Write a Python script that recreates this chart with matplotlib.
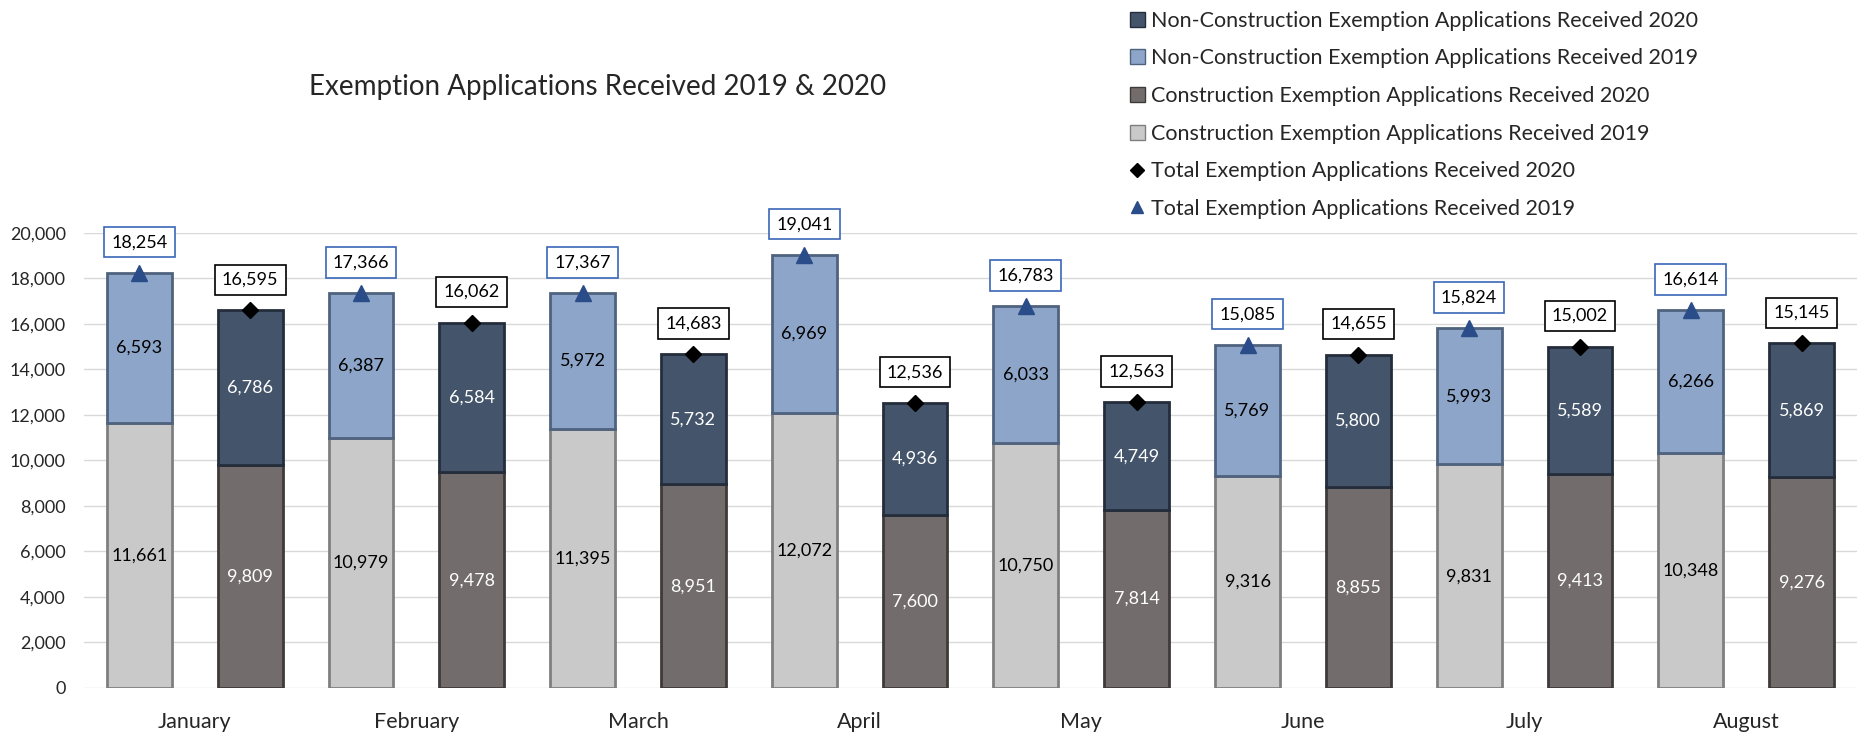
import numpy as np
import matplotlib.pyplot as plt
from matplotlib.lines import Line2D
from matplotlib.patches import Patch

plt.rcParams['font.family'] = ['Lato', 'DejaVu Sans']

months = ['January', 'February', 'March', 'April', 'May', 'June', 'July', 'August']
con19 = [11661, 10979, 11395, 12072, 10750, 9316, 9831, 10348]
non19 = [6593, 6387, 5972, 6969, 6033, 5769, 5993, 6266]
tot19 = [18254, 17366, 17367, 19041, 16783, 15085, 15824, 16614]
con20 = [9809, 9478, 8951, 7600, 7814, 8855, 9413, 9276]
non20 = [6786, 6584, 5732, 4936, 4749, 5800, 5589, 5869]
tot20 = [16595, 16062, 14683, 12536, 12563, 14655, 15002, 15145]

c_con19, c_non19 = '#c9c9c9', '#8ca5c8'
c_con20, c_non20 = '#726c6c', '#44546a'
e_con19, e_non19 = '#7f7f7f', '#4f627e'
e_con20, e_non20 = '#3f3a3a', '#242d3b'

fig = plt.figure(figsize=(18.62, 7.37), dpi=100)
ax = fig.add_axes([0.0451, 0.0665, 0.9522, 0.6174])

x19 = np.arange(len(months)) * 2
x20 = x19 + 1
w = 0.585

ax.bar(x19, con19, w, color=c_con19, edgecolor=e_con19, lw=2, zorder=2)
ax.bar(x19, non19, w, bottom=con19, color=c_non19, edgecolor=e_non19, lw=2, zorder=2)
ax.bar(x20, con20, w, color=c_con20, edgecolor=e_con20, lw=2, zorder=2)
ax.bar(x20, non20, w, bottom=con20, color=c_non20, edgecolor=e_non20, lw=2, zorder=2)

ax.plot(x19, tot19, ls='none', marker='^', ms=11, color='#2a4d8a', zorder=4)
ax.plot(x20, tot20, ls='none', marker='D', ms=8, color='black', zorder=4)

for i in range(len(months)):
    ax.text(x19[i], con19[i] / 2, f'{con19[i]:,}', ha='center', va='center', fontsize=13, color='black', zorder=5)
    ax.text(x19[i], con19[i] + non19[i] / 2, f'{non19[i]:,}', ha='center', va='center', fontsize=13, color='black', zorder=5)
    ax.text(x20[i], con20[i] / 2, f'{con20[i]:,}', ha='center', va='center', fontsize=13, color='white', zorder=5)
    ax.text(x20[i], con20[i] + non20[i] / 2, f'{non20[i]:,}', ha='center', va='center', fontsize=13, color='white', zorder=5)
    ax.annotate(f'{tot19[i]:,}', (x19[i], tot19[i]), xytext=(0, 22), textcoords='offset points',
                ha='center', va='center', fontsize=13, annotation_clip=False, zorder=6,
                bbox=dict(boxstyle='square,pad=0.4', fc='white', ec='#3a66b8', lw=1.2))
    ax.annotate(f'{tot20[i]:,}', (x20[i], tot20[i]), xytext=(0, 22), textcoords='offset points',
                ha='center', va='center', fontsize=13, annotation_clip=False, zorder=6,
                bbox=dict(boxstyle='square,pad=0.4', fc='white', ec='black', lw=1.2))

ax.set_xlim(-0.5, 15.5)
ax.set_ylim(0, 20000)
ax.set_yticks(range(0, 20001, 2000))
ax.set_yticklabels([f'{v:,}' for v in range(0, 20001, 2000)])
ax.set_xticks(x19 + 0.5)
ax.set_xticklabels(months)
ax.tick_params(axis='both', length=0, colors='#262626')
ax.tick_params(axis='x', pad=17, labelsize=15.5)
ax.tick_params(axis='y', pad=13, labelsize=13)
ax.grid(axis='y', color='#d9d9d9', lw=1, zorder=0)
ax.set_axisbelow(True)
for s in ax.spines.values():
    s.set_visible(False)

fig.text(0.321, 0.882, 'Exemption Applications Received 2019 & 2020', ha='center', va='center',
         fontsize=20, color='#262626')

handles = [
    Patch(fc=c_non20, ec=e_non20),
    Patch(fc=c_non19, ec=e_non19),
    Patch(fc=c_con20, ec=e_con20),
    Patch(fc=c_con19, ec=e_con19),
    Line2D([], [], ls='none', marker='D', ms=7, color='black'),
    Line2D([], [], ls='none', marker='^', ms=9, color='#2a4d8a'),
]
labels = [
    'Non-Construction Exemption Applications Received 2020',
    'Non-Construction Exemption Applications Received 2019',
    'Construction Exemption Applications Received 2020',
    'Construction Exemption Applications Received 2019',
    'Total Exemption Applications Received 2020',
    'Total Exemption Applications Received 2019',
]
fig.legend(handles, labels, loc='upper left', bbox_to_anchor=(0.601, 1.0), frameon=False,
           fontsize=15.5, handlelength=0.7, handleheight=0.7, handletextpad=0.3,
           labelspacing=0.82, borderaxespad=0.1, labelcolor='#262626')

fig.savefig('out.png', dpi=100)
